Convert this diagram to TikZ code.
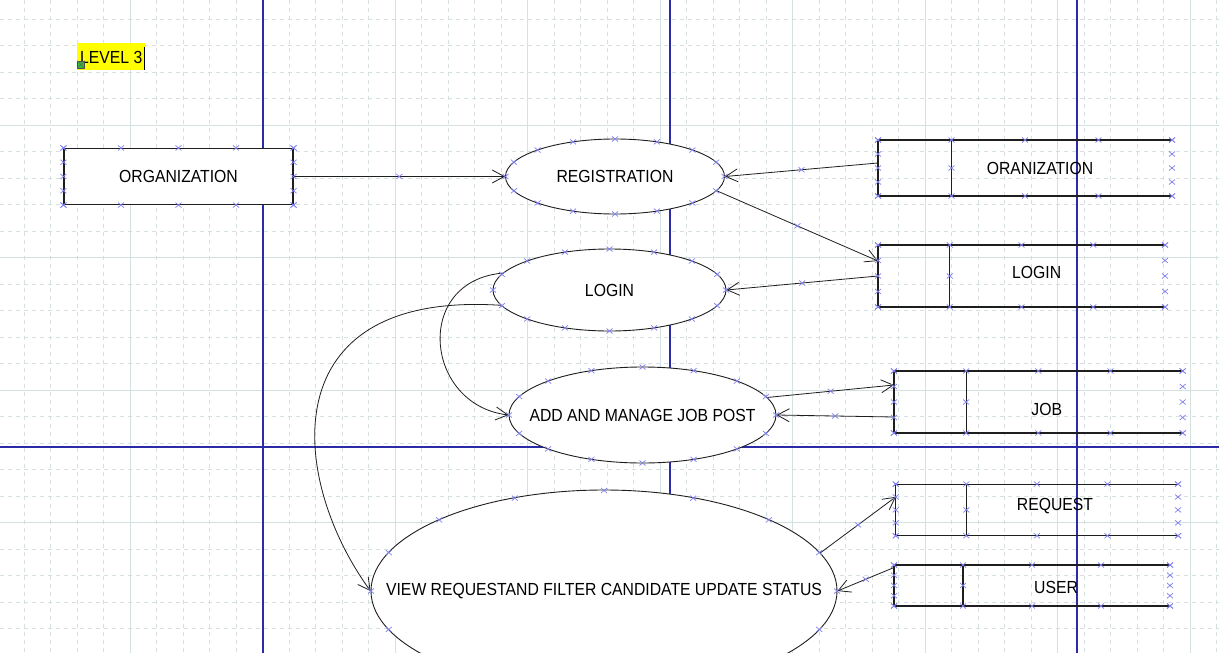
\documentclass[tikz,border=0pt]{standalone}
\usepackage{fontspec}
\setmainfont{Liberation Sans}[FakeStretch=0.9]
\usepackage{tikz}
\usetikzlibrary{shapes.geometric, arrows.meta, calc}
\definecolor{gridgray}{HTML}{D5E1E1}
\definecolor{guideblue}{HTML}{2B2BA8}
\definecolor{markblue}{HTML}{8080F0}
\definecolor{edgegray}{HTML}{1E1E1E}
\definecolor{hilite}{HTML}{FFFF00}
\definecolor{handlegreen}{HTML}{2DBE2D}
\newcommand\dfdfont{\fontsize{17.5}{20}\selectfont}
\tikzset{
  xm/.pic={\draw[markblue, line width=0.7pt] (-3,-2.5) -- (3,2.5) (-3,2.5) -- (3,-2.5);}
}

\begin{document}
\begin{tikzpicture}[x=1pt, y=-1pt,
    gridline/.style={gridgray, line width=0.7pt},
    griddash/.style={gridgray, line width=0.7pt, dash pattern=on 4pt off 4pt},
    guide/.style={guideblue, line width=1.3pt},
    entity/.style={draw=edgegray, fill=white, line width=1.1pt, inner sep=0pt, font=\dfdfont},
    proc/.style={ellipse, draw=edgegray, fill=white, line width=0.9pt, inner sep=0pt, font=\dfdfont},
    store/.style={inner sep=0pt, outer sep=0pt},
    storetext/.style={inner sep=0pt, font=\dfdfont},
    storeline/.style={edgegray, line width=1.1pt},
    flow/.style={edgegray, line width=0.8pt, -{Straight Barb[length=12pt,width=13pt]}}]
\useasboundingbox (0,0) rectangle (1219,653);
\clip (0,0) rectangle (1219,653);
\fill[white] (0,0) rectangle (1219,653);

% grid
\foreach \gx in {-2.5,24,...,1220} \draw[griddash] (\gx,0) -- (\gx,653);
\foreach \gy in {-7.5,19,...,660} \draw[griddash] (0,\gy) -- (1219,\gy);
\foreach \gx in {-2.5,130,...,1220} \draw[gridline] (\gx,0) -- (\gx,653);
\foreach \gy in {-7.5,125,...,660} \draw[gridline] (0,\gy) -- (1219,\gy);

% guides
\draw[guide] (263,0) -- (263,653) (670,0) -- (670,653) (1077,0) -- (1077,653) (0,447) -- (1219,447);

% title
\node[fill=hilite, minimum width=68pt, minimum height=27pt, inner sep=0pt] (lvl) at (111,56.5) {};
\node[anchor=west, inner sep=0pt, font=\dfdfont] (lvltext) at (80,57.5) {LEVEL 3};
\draw[black, line width=0.8pt] ([xshift=1.5pt]lvltext.east) ++(0,-10.5) -- ++(0,23);
\node[draw=black!70, fill=handlegreen, minimum size=7pt, inner sep=0pt, line width=0.5pt] (hdl) at (81,64.5) {};
\draw[black!60, line width=0.4pt] (hdl.north west) -- (hdl.south east) (hdl.north east) -- (hdl.south west);

% entity and processes
\node[entity, minimum width=229pt, minimum height=56pt] (org) at (178.5,176.5) {ORGANIZATION};
\node[proc, minimum width=219pt, minimum height=75pt] (reg) at (615,176.5) {REGISTRATION};
\node[proc, minimum width=233pt, minimum height=82pt] (log) at (609.5,290) {LOGIN};
\node[proc, minimum width=267pt, minimum height=96pt] (job) at (642.5,415) {\makebox[0pt]{ADD AND MANAGE JOB POST}};
\node[proc, minimum width=466pt, minimum height=202pt] (view) at (604,591) {\makebox[0pt]{VIEW REQUESTAND FILTER CANDIDATE UPDATE STATUS}};

% data stores
\node[store, minimum width=294pt, minimum height=56pt] (sorg) at (1025,168) {};
\node[store, minimum width=287pt, minimum height=62pt] (slog) at (1021.5,276) {};
\node[store, minimum width=288.7pt, minimum height=62pt] (sjob) at (1038.3,402) {};
\node[store, minimum width=282.3pt, minimum height=51.7pt] (sreq) at (1036.9,509.9) {};
\node[store, minimum width=276pt, minimum height=41pt] (susr) at (1032,585.5) {};
\node[storetext] (sorg-t) at (1040,168) {ORANIZATION};
\node[storetext] (slog-t) at (1036.7,272) {LOGIN};
\node[storetext] (sjob-t) at (1046.7,409) {JOB};
\node[storetext] (sreq-t) at (1055,506) {REQUEST};
\node[storetext] (susr-t) at (1056,587) {USER};
\foreach \s in {sorg,slog,sjob,sreq,susr} {
  \draw[storeline] (\s.north east) -- (\s.north west) -- (\s.south west) -- (\s.south east);
  \draw[storeline] ($(\s.north west)!.25!(\s.north east)$) -- ($(\s.south west)!.25!(\s.south east)$);
}

% flows
\draw[flow] (org.east) -- coordinate[pos=.5] (m1) (reg.west);
\draw[flow] ([yshift=5pt]sorg.west) -- coordinate[pos=.5] (m2) (reg.east);
\draw[flow] (reg.-8) -- coordinate[pos=.5] (m3) ([yshift=15pt]slog.west);
\draw[flow] (slog.west) -- coordinate[pos=.5] (m4) (log.east);
\draw[flow] (job.8) -- coordinate[pos=.5] (m5) ([yshift=17pt]sjob.west);
\draw[flow] ([yshift=-15pt]sjob.west) -- coordinate[pos=.5] (m6) (job.east);
\draw[flow] (view.10) -- coordinate[pos=.5] (m7) ([yshift=13pt]sreq.west);
\draw[flow] ([yshift=18pt]susr.west) -- coordinate[pos=.5] (m8) (view.east);
\draw[flow] (log.171) .. controls +(-90,8) and +(-84,-10) .. (job.west);
\draw[flow] (log.188) .. controls +(-231,-15) and +(-81,-111) .. (view.west);

% connection marks
\foreach \n/\rx/\ry in {reg/109.5/37.5, log/116.5/41, job/133.5/48, view/233/100.5}
  \foreach \a in {0,22.5,...,337.5}
    \pic at ($(\n.center)+({\rx*cos(\a)},{\ry*sin(\a)})$) {xm};
\foreach \s in {org,sorg,slog,sjob,sreq,susr}
  \foreach \f in {0,0.25,0.5,0.75,1} {
    \pic at ($(\s.north west)!\f!(\s.north east)$) {xm};
    \pic at ($(\s.south west)!\f!(\s.south east)$) {xm};
    \pic at ($(\s.north west)!\f!(\s.south west)$) {xm};
    \pic at ($(\s.north east)!\f!(\s.south east)$) {xm};
  }
\foreach \s in {sorg,slog,sjob,sreq,susr}
  \pic at ($(\s.west)!.25!(\s.east)$) {xm};
\foreach \i in {1,...,8}
  \pic at (m\i) {xm};
\end{tikzpicture}
\end{document}
